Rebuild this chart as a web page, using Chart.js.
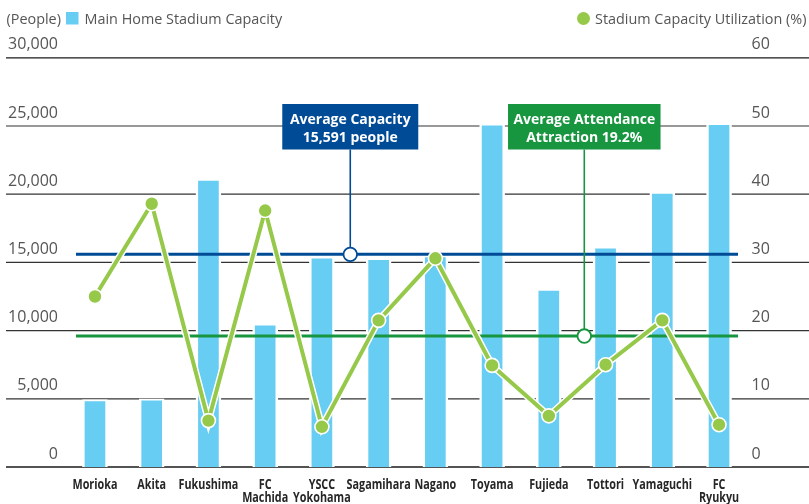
<!DOCTYPE html>
<html>
<head>
<meta charset="utf-8">
<script src="https://cdn.jsdelivr.net/npm/chart.js@4/dist/chart.umd.min.js"></script>
<style>
  html, body { margin: 0; padding: 0; background: #fff; }
  #wrap { width: 809px; height: 504px; }
</style>
</head>
<body>
<div id="wrap"><canvas id="c" width="809" height="504"></canvas></div>
<script>
// Clubs (multi-line labels are arrays of lines)
const categories = [
  ['Morioka'], ['Akita'], ['Fukushima'], ['FC', 'Machida'], ['YSCC', 'Yokohama'],
  ['Sagamihara'], ['Nagano'], ['Toyama'], ['Fujieda'], ['Tottori'], ['Yamaguchi'], ['FC', 'Ryukyu']
];
// Main home stadium capacity (people)
const capacity = [4950, 5000, 21100, 10500, 15400, 15300, 15500, 25150, 13050, 16150, 20150, 25200];
// Stadium capacity utilization (%)
const utilization = [25.0, 38.6, 6.8, 37.6, 5.9, 21.5, 30.6, 14.9, 7.5, 15.0, 21.5, 6.2];

// Axis ticks
const leftTickValues = [0, 5000, 10000, 15000, 20000, 25000, 30000];
const leftTickLabels = ['0', '5,000', '10,000', '15,000', '20,000', '25,000', '30,000'];
const rightTickValues = [0, 10, 20, 30, 40, 50, 60];
const rightTickLabels = ['0', '10', '20', '30', '40', '50', '60'];

// Reference averages
const avgCapacity = 15591;
const avgUtilization = 19.2;
const avgCapacityText = ['Average Capacity', '15,591 people'];
const avgUtilizationText = ['Average Attendance', 'Attraction 19.2%'];

const legendLeft = ['(People)', 'Main Home Stadium Capacity'];
const legendRight = 'Stadium Capacity Utilization (%)';

const BAR = '#67cdf2';
const LINE = '#96c94a';
const NAVY = '#004b96';
const GREEN = '#17953f';
const TEXT = '#555555';
const FONT = '"Open Sans", "Noto Sans", sans-serif';

function textLines(ctx, lines, x, y, lh) {
  lines.forEach((t, i) => ctx.fillText(t, x, y + i * lh));
}

const decorations = {
  id: 'decorations',
  beforeDatasetsDraw(chart) {
    const ctx = chart.ctx;
    const y = chart.scales.y, y2 = chart.scales.y2, x = chart.scales.x;
    ctx.save();
    // horizontal grid
    leftTickValues.forEach((v, i) => {
      const py = y.getPixelForValue(v);
      ctx.beginPath();
      ctx.moveTo(6, py);
      ctx.lineTo(809, py);
      ctx.lineWidth = (i === 0) ? 1.6 : 1.2;
      ctx.strokeStyle = (i === 0 || i === leftTickValues.length - 1) ? '#1a1a1a' : '#333333';
      ctx.stroke();
    });
    // left tick labels
    ctx.font = '16px ' + FONT;
    ctx.fillStyle = TEXT;
    ctx.textBaseline = 'alphabetic';
    ctx.textAlign = 'right';
    leftTickValues.forEach((v, i) => {
      ctx.fillText(leftTickLabels[i], 58, y.getPixelForValue(v) - 8.5);
    });
    // right tick labels
    ctx.textAlign = 'left';
    rightTickValues.forEach((v, i) => {
      ctx.fillText(rightTickLabels[i], 751.5, y2.getPixelForValue(v) - 8.5);
    });
    // category labels, condensed horizontally
    ctx.font = 'bold 13.5px ' + FONT;
    ctx.fillStyle = '#262626';
    ctx.textAlign = 'center';
    x.getLabels().forEach((lab, i) => {
      ctx.save();
      ctx.translate(x.getPixelForValue(i), 0);
      ctx.scale(0.8, 1);
      textLines(ctx, lab, 0, 488.5, 13.4);
      ctx.restore();
    });
    // legend
    ctx.font = '14.4px ' + FONT;
    ctx.fillStyle = TEXT;
    ctx.textAlign = 'left';
    ctx.fillText(legendLeft[0], 6.5, 24);
    ctx.fillText(legendLeft[1], 84.5, 24);
    ctx.fillStyle = BAR;
    ctx.fillRect(66, 12, 12.5, 12.5);
    ctx.fillStyle = TEXT;
    ctx.fillText(legendRight, 595, 24);
    ctx.beginPath();
    ctx.arc(583.5, 18.5, 6.5, 0, Math.PI * 2);
    ctx.fillStyle = LINE;
    ctx.fill();
    ctx.restore();
  },
  afterDatasetDraw(chart, args) {
    if (args.meta.type !== 'bar') return;
    const ctx = chart.ctx;
    const x = chart.scales.x;
    const step = x.getPixelForValue(1) - x.getPixelForValue(0);
    const x0 = x.getPixelForValue(0) - 0.335 * step;
    const x1 = x.getPixelForValue(11) + 0.335 * step;
    ctx.save();
    ctx.lineWidth = 3;
    [[chart.scales.y.getPixelForValue(avgCapacity), NAVY],
     [chart.scales.y2.getPixelForValue(avgUtilization), GREEN]].forEach(([py, col]) => {
      ctx.beginPath();
      ctx.moveTo(x0, py);
      ctx.lineTo(x1, py);
      ctx.strokeStyle = col;
      ctx.stroke();
    });
    ctx.restore();
  },
  afterDatasetsDraw(chart) {
    const ctx = chart.ctx;
    const x = chart.scales.x;
    const step = x.getPixelForValue(1) - x.getPixelForValue(0);
    const callouts = [
      { cx: x.getPixelForValue(4) + 0.5 * step, cy: chart.scales.y.getPixelForValue(avgCapacity),
        w: 136, col: NAVY, text: avgCapacityText },
      { cx: x.getPixelForValue(8) + 0.625 * step, cy: chart.scales.y2.getPixelForValue(avgUtilization),
        w: 152.5, col: GREEN, text: avgUtilizationText }
    ];
    ctx.save();
    callouts.forEach(c => {
      const top = 104, h = 45.5;
      ctx.beginPath();
      ctx.moveTo(c.cx, top + h);
      ctx.lineTo(c.cx, c.cy);
      ctx.lineWidth = 1.6;
      ctx.strokeStyle = c.col;
      ctx.stroke();
      ctx.beginPath();
      ctx.arc(c.cx, c.cy, 6.8, 0, Math.PI * 2);
      ctx.fillStyle = '#fff';
      ctx.fill();
      ctx.lineWidth = 1.8;
      ctx.stroke();
      ctx.fillStyle = c.col;
      ctx.fillRect(c.cx - c.w / 2, top, c.w, h);
      ctx.fillStyle = '#fff';
      ctx.font = 'bold 14px ' + FONT;
      ctx.textAlign = 'center';
      ctx.textBaseline = 'alphabetic';
      textLines(ctx, c.text, c.cx, top + 19.5, 18.5);
    });
    ctx.restore();
  }
};

new Chart(document.getElementById('c'), {
  data: {
    labels: categories,
    datasets: [
      {
        type: 'line', label: legendRight, data: utilization, yAxisID: 'y2', order: 0,
        borderColor: LINE, borderWidth: 4, tension: 0,
        pointRadius: 7, pointBackgroundColor: LINE, pointBorderColor: '#fff', pointBorderWidth: 1.6
      },
      {
        type: 'line', label: 'outline', data: utilization, yAxisID: 'y2', order: 1,
        borderColor: '#fff', borderWidth: 7, tension: 0, pointRadius: 0
      },
      {
        type: 'bar', label: legendLeft[1], data: capacity, yAxisID: 'y', order: 2,
        backgroundColor: BAR, borderColor: '#fff',
        borderWidth: { top: 2, left: 2.5, right: 2.5, bottom: 0 }, borderSkipped: 'start',
        barThickness: 25
      }
    ]
  },
  options: {
    responsive: false,
    devicePixelRatio: 1,
    animation: false,
    layout: { padding: { left: 66.6, right: 61.6, top: 57.8, bottom: 37 } },
    plugins: { legend: { display: false }, tooltip: { enabled: false } },
    scales: {
      x: { type: 'category', display: false, offset: true },
      y: { display: false, min: 0, max: 30000 },
      y2: { display: false, min: 0, max: 60, position: 'right' }
    }
  },
  plugins: [decorations]
});
</script>
</body>
</html>
